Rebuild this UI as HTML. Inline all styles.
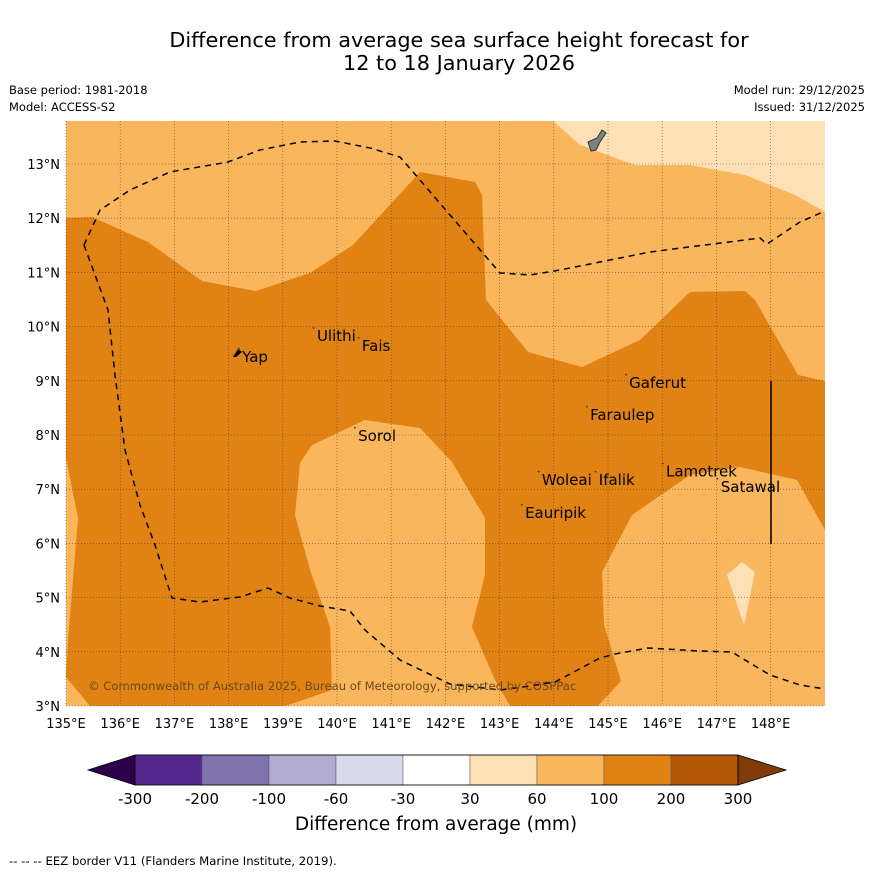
<!DOCTYPE html>
<html><head><meta charset="utf-8"><style>
body{margin:0;background:#fff;font-family:"Liberation Sans","DejaVu Sans",sans-serif}
svg{display:block}
</style></head><body>
<svg id="c" width="873" height="873" xmlns="http://www.w3.org/2000/svg" font-family="DejaVu Sans, Liberation Sans, sans-serif">
<text x="459" y="47" font-size="20.8" text-anchor="middle">Difference from average sea surface height forecast for</text>
<text x="459" y="70" font-size="20.8" text-anchor="middle">12 to 18 January 2026</text>
<text x="9" y="94" font-size="11.5">Base period: 1981-2018</text>
<text x="9" y="111" font-size="11.5">Model: ACCESS-S2</text>
<text x="865" y="94" font-size="11.5" text-anchor="end">Model run: 29/12/2025</text>
<text x="865" y="111" font-size="11.5" text-anchor="end">Issued: 31/12/2025</text>
<g id="map"></g>
<g id="cb"></g>
<text x="436" y="830" font-size="18.5" text-anchor="middle">Difference from average (mm)</text>
<text x="9" y="865" font-size="11.7">--  --  -- EEZ border V11 (Flanders Marine Institute, 2019).</text>
</svg>
<script>
const lonTicks=[135,136,137,138,139,140,141,142,143,144,145,146,147,148];
const latTicks=[3,4,5,6,7,8,9,10,11,12,13];
const levels=["-300","-200","-100","-60","-30","30","60","100","200","300"];
const levelColors=["#54278f","#8073ac","#b2abd2","#d8daeb","#ffffff","#fee0b6","#f9b65c","#e08214","#b35806"];
const places=[["Yap",138.25,9.35],["Ulithi",139.63,9.73],["Fais",140.46,9.55],["Gaferut",145.39,8.87],["Faraulep",144.67,8.28],["Sorol",140.39,7.89],["Woleai",143.78,7.08],["Ifalik",144.83,7.08],["Lamotrek",146.07,7.23],["Satawal",147.08,6.95],["Eauripik",143.47,6.47]];
const NS="http://www.w3.org/2000/svg";
const X0=66,X1=825,Y0=121,Y1=706;
const xs=lon=>X0+(lon-135)*54.2, ys=lat=>Y1-(lat-3)*54.2;
function el(t,a,p){const e=document.createElementNS(NS,t);for(const k in a)e.setAttribute(k,a[k]);p.appendChild(e);return e;}
const map=document.getElementById('map');
el('rect',{x:X0,y:Y0,width:X1-X0,height:Y1-Y0,fill:'#f9b65c'},map);
const dark="66,218 92,217 148,242 202,281 256,291 310,273 353,245 420,172 475,182 482,195 486,300 528,352 582,367 640,340 690,292 745,291 755,300 798,375 825,381 825,530 797,480 740,467 690,475 632,515 602,572 604,625 621,681 598,706 510,706 495,680 472,627 485,575 485,518 452,462 420,428 365,420 312,445 300,463 295,515 310,570 330,627 332,690 285,706 90,706 66,677 68,640 78,518 66,458";
let p=el('polygon',{points:dark,fill:'#e08214'},map);

p=el('polygon',{points:"553,121 580,145 635,165 690,165 745,175 795,195 825,212 825,121",fill:'#fee0b6'},map);

p=el('polygon',{points:"727,575 742,562 755,572 744,625",fill:'#fee0b6'},map);

p=el('path',{d:"M588,142 L597,138 L602,130 L606,133 L600,142 L596,150 L591,151 Z",fill:'#808080',stroke:'#333','stroke-width':1},map);

lonTicks.forEach(l=>{const x=xs(l);
 el('line',{x1:x,x2:x,y1:Y0,y2:Y1,stroke:'#333','stroke-width':0.6,'stroke-dasharray':'1,2',opacity:0.8},map);
 const t=el('text',{x:x,y:Y1+22,'font-size':13,'text-anchor':'middle'},map);t.textContent=l+'°E';
 });
latTicks.forEach(l=>{const y=ys(l);
 el('line',{x1:X0,x2:X1,y1:y,y2:y,stroke:'#333','stroke-width':0.6,'stroke-dasharray':'1,2',opacity:0.8},map);
 const t=el('text',{x:X0-6,y:y+5,'font-size':13,'text-anchor':'end'},map);t.textContent=l+'°N';
 });
const eez1="84,245 100,210 130,190 170,172 228,162 260,150 300,142 335,141 370,148 400,157 420,180 450,215 500,273 530,275 560,270 650,252 760,238 767,244 800,222 825,211";
const eez2="84,245 108,310 115,375 125,450 140,505 155,545 172,598 200,602 240,597 268,588 290,598 320,606 350,611 365,630 400,660 450,684 500,690 530,686 555,682 600,658 615,654 648,648 700,651 732,652 745,660 770,675 800,685 825,689";
[eez1,eez2].forEach(pts=>{const e=el('polyline',{points:pts,fill:'none',stroke:'#000','stroke-width':1.5,'stroke-dasharray':'6,5'},map);
 });
p=el('line',{x1:771,x2:771,y1:381,y2:544,stroke:'#000','stroke-width':1.5},map);

p=el('path',{d:"M233,357 L238,349 L242,352 L236,357 Z",fill:'#000'},map);

places.forEach(([n,lo,la])=>{const t=el('text',{x:xs(lo),y:ys(la),'font-size':15},map);t.textContent=n;
 
 const d=el('rect',{x:xs(lo)-4,y:ys(la)-14,width:1.5,height:1.5,fill:'#333'},map);
 });
const cr=el('text',{x:88,y:690,'font-size':11.6,fill:'#6b4a1e'},map);cr.textContent='© Commonwealth of Australia 2025, Bureau of Meteorology, supported by COSPPac';

const cb=document.getElementById('cb');
const bx0=135,bw=67,by=755,bh=30;
p=el('polygon',{points:`${bx0},${by} 88,${by+bh/2} ${bx0},${by+bh}`,fill:'#2d004b',stroke:'#000','stroke-width':0.8},cb);

levelColors.forEach((c,i)=>{const r=el('rect',{x:bx0+i*bw,y:by,width:bw,height:bh,fill:c,stroke:'#555','stroke-width':0.5},cb);
 });
const xe=bx0+levelColors.length*bw;
p=el('polygon',{points:`${xe},${by} 786,${by+bh/2} ${xe},${by+bh}`,fill:'#7f3b08',stroke:'#000','stroke-width':0.8},cb);

el('rect',{x:bx0,y:by,width:levelColors.length*bw,height:bh,fill:'none',stroke:'#000','stroke-width':0.8},cb);
levels.forEach((l,i)=>{const t=el('text',{x:bx0+i*bw,y:804,'font-size':15,'text-anchor':'middle'},cb);t.textContent=l;
 });
</script>
</body></html>
